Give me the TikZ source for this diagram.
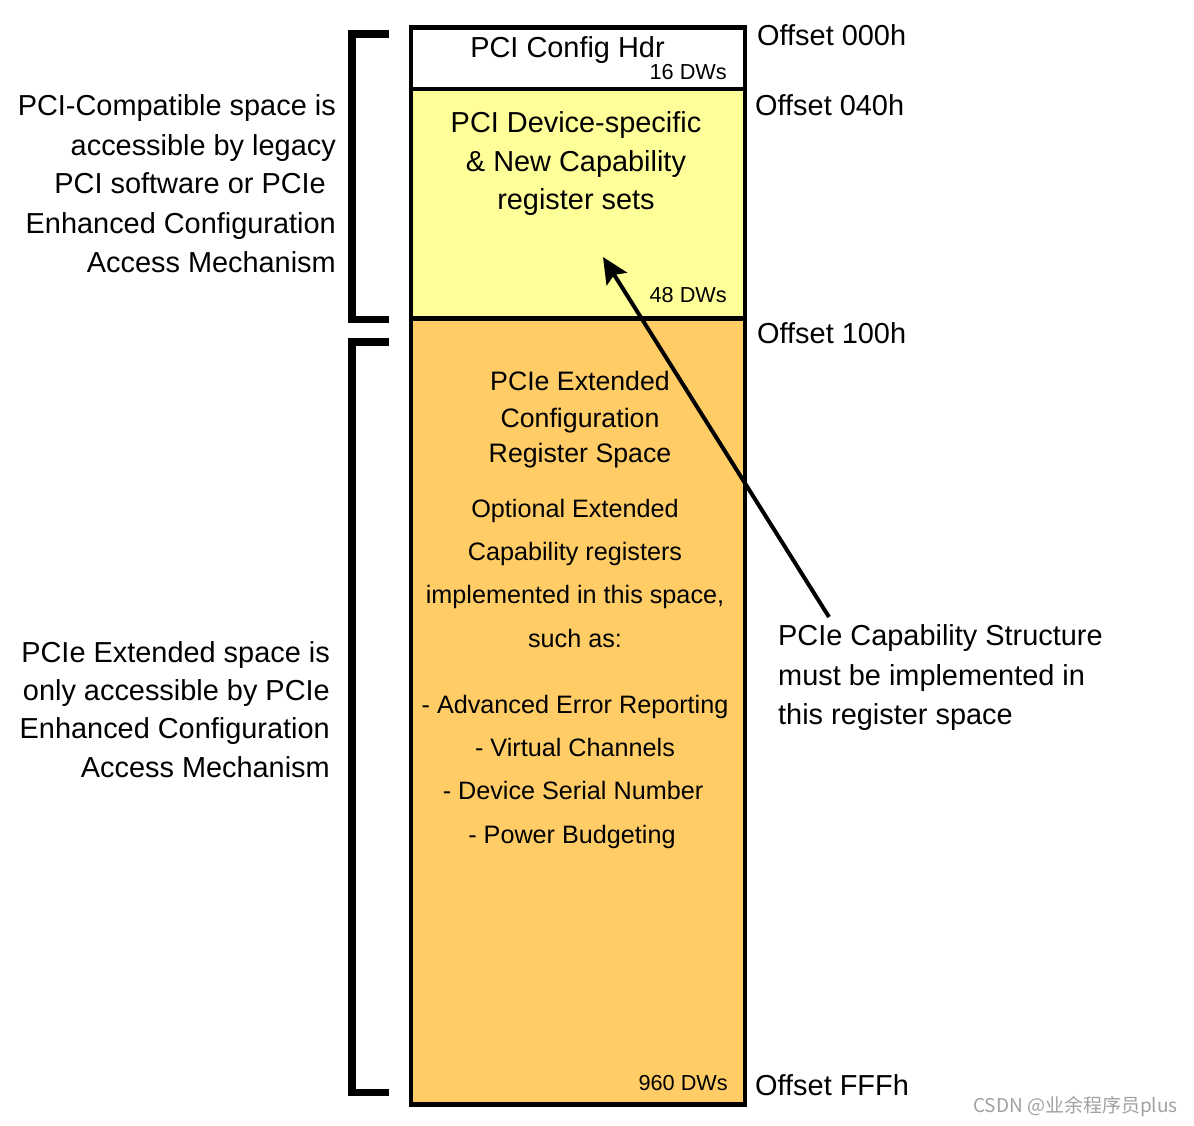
\documentclass[tikz,border=0pt]{standalone}
\usepackage{fontspec}
\setmainfont{Liberation Sans}
\newfontfamily\cjk{Noto Sans CJK SC}
\usetikzlibrary{arrows.meta}
\definecolor{hdrwhite}{HTML}{FFFFFF}
\definecolor{pciyellow}{HTML}{FFFF99}
\definecolor{extorange}{HTML}{FFCC66}
\definecolor{wmgray}{HTML}{A0A0A0}
\tikzset{
  big/.style={font=\fontsize{28.9}{34}\selectfont, inner sep=0pt, anchor=base},
  bigl/.style={big, anchor=base west},
  bigr/.style={big, anchor=base east},
  head/.style={font=\fontsize{26.7}{32}\selectfont, inner sep=0pt, anchor=base},
  item/.style={font=\fontsize{25.2}{30}\selectfont, inner sep=0pt, anchor=base},
  dws/.style={font=\fontsize{21.7}{26}\selectfont, inner sep=0pt, anchor=base east},
  region/.style={draw=black, line width=4.5pt},
  bracket/.style={draw=black, line width=7.5pt, line cap=rect, line join=miter},
  pointer/.style={draw=black, line width=4pt, -{Stealth[length=26pt,width=24pt,inset=5pt]}},
  wmark/.style={font=\cjk\fontsize{19}{23}\selectfont, text=wmgray, inner sep=0pt, anchor=base east}
}
\begin{document}
\begin{tikzpicture}[x=1pt,y=-1pt]
\useasboundingbox (0,0) rectangle (1194,1125);
% register regions
\fill[hdrwhite] (411,27.5) rectangle (745,89);
\fill[pciyellow] (411,89) rectangle (745,318.5);
\fill[extorange] (411,318.5) rectangle (745,1104.5);
\draw[region] (411,27.5) rectangle (745,1104.5);
\draw[region] (411,89) -- (745,89);
\draw[region] (411,318.5) -- (745,318.5);
% brackets
\draw[bracket] (385,34) -- (352,34) -- (352,319.5) -- (385,319.5);
\draw[bracket] (385,342) -- (352,342) -- (352,1092.5) -- (385,1092.5);
% header texts
\node[big] (hdr) at (567.5,57) {PCI Config Hdr};
\node[dws] (dw16) at (727,79) {16 DWs};
\node[big] (dev1) at (576,132) {PCI Device-specific};
\node[big] (dev2) at (576,171) {\& New Capability};
\node[big] (dev3) at (576,209) {register sets};
\node[dws] (dw48) at (727,302) {48 DWs};
% extended texts
\node[head] (ext1) at (580,390) {PCIe Extended};
\node[head] (ext2) at (580,427) {Configuration};
\node[head] (ext3) at (580,462) {Register Space};
\node[item] (opt1) at (575,517) {Optional Extended};
\node[item] (opt2) at (575,560) {Capability registers};
\node[item] (opt3) at (575,603) {implemented in this space,};
\node[item] (opt4) at (575,647) {such as:};
\node[item] (it1) at (575,713) {- Advanced Error Reporting};
\node[item] (it2) at (575,756) {- Virtual Channels};
\node[item] (it3) at (573,799) {- Device Serial Number};
\node[item] (it4) at (572,843) {- Power Budgeting};
\node[dws] (dw960) at (728,1090) {960 DWs};
% offsets
\node[bigl] (off0) at (757,45) {Offset 000h};
\node[bigl] (off40) at (755,115) {Offset 040h};
\node[bigl] (off100) at (757,343) {Offset 100h};
\node[bigl] (offfff) at (755,1095) {Offset FFFh};
% left descriptions
\node[bigr] (la1) at (336,115) {PCI-Compatible space is};
\node[bigr] (la2) at (336,155) {accessible by legacy};
\node[bigr] (la3) at (326,193) {PCI software or PCIe};
\node[bigr] (la4) at (336,233) {Enhanced Configuration};
\node[bigr] (la5) at (336,272) {Access Mechanism};
\node[bigr] (lb1) at (330,662) {PCIe Extended space is};
\node[bigr] (lb2) at (330,700) {only accessible by PCIe};
\node[bigr] (lb3) at (330,738) {Enhanced Configuration};
\node[bigr] (lb4) at (330,777) {Access Mechanism};
% right description
\node[bigl] (ra1) at (778,645) {PCIe Capability Structure};
\node[bigl] (ra2) at (778,685) {must be implemented in};
\node[bigl] (ra3) at (778,724) {this register space};
% pointer arrow
\coordinate (ptail) at (829,617);
\coordinate (ptip) at (603,257);
\draw[pointer] (ptail) -- (ptip);
% watermark
\node[wmark] (wm) at (1178,1112) {CSDN @业余程序员plus};
\end{tikzpicture}
\end{document}
